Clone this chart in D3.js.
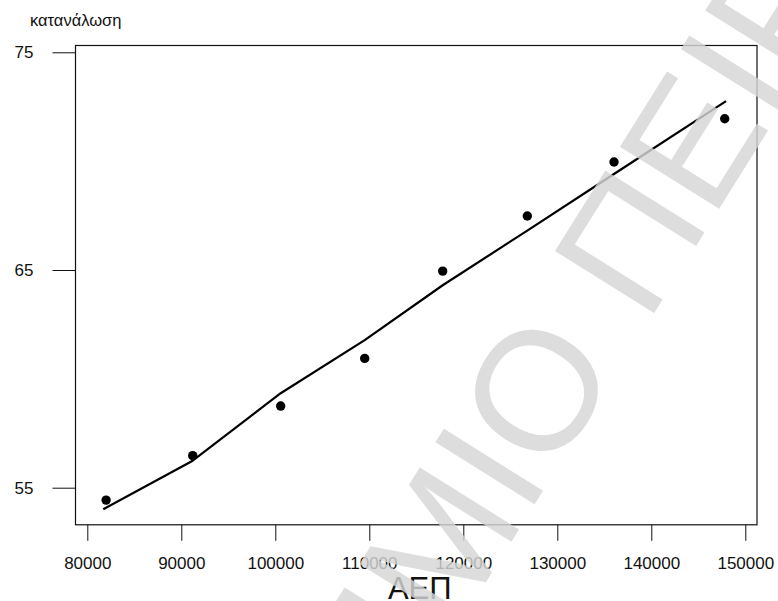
<!DOCTYPE html>
<html>
<head>
<meta charset="utf-8">
<script src="https://cdn.jsdelivr.net/npm/d3@7"></script>
<style>
  html, body { margin: 0; padding: 0; background: #fff; }
  svg { display: block; }
  text { font-family: "Liberation Sans", Arial, sans-serif; }
</style>
</head>
<body>
<svg id="chart" width="778" height="601"></svg>
<script>
// ---- data ----
const gdp = [82000, 91213, 100574, 109511, 117809, 126809, 136032, 147809];
const consumption = [54.43, 56.47, 58.75, 60.94, 64.95, 67.48, 69.96, 71.95];
const fitX = [81700, 91213, 100574, 109511, 117809, 126809, 136032, 147950];
const fitY = [54.01, 56.24, 59.34, 61.78, 64.30, 66.81, 69.41, 72.76];
const xTicks = [80000, 90000, 100000, 110000, 120000, 130000, 140000, 150000];
const yTicks = [55, 65, 75];
const xTitle = "ΑΕΠ";
const yTitle = "κατανάλωση";
const watermarkLeft = "ΠΑΝΕΠΙΣΤΗΜΙΟ";
const watermarkRight = "ΠΕΙΡΑΙΩΣ";

const svg = d3.select("#chart");
const box = {left: 75, top: 45, right: 756.5, bottom: 524.3};

const x = d3.scaleLinear().domain([80000, 150000]).range([87.3, 745.3]);
const y = d3.scaleLinear().domain([55, 75]).range([487.7, 52.3]);

// frame
svg.append("rect")
  .attr("x", box.left + 0.5).attr("y", box.top + 0.5)
  .attr("width", box.right - box.left).attr("height", box.bottom - box.top)
  .attr("fill", "none").attr("stroke", "#111").attr("stroke-width", 1.2);

// y axis
const yAxis = svg.append("g")
  .attr("transform", `translate(${box.left + 0.5},0)`)
  .call(d3.axisLeft(y).tickValues(yTicks).tickSize(23).tickPadding(19).tickSizeOuter(0).tickFormat(d3.format("d")));
yAxis.select(".domain").remove();
yAxis.selectAll("line").attr("stroke", "#111");
yAxis.selectAll("text").attr("font-size", 17).attr("fill", "#111")
  .attr("font-family", "'Liberation Sans', Arial, sans-serif");

// x axis
const xAxis = svg.append("g")
  .attr("transform", `translate(0,${box.bottom + 0.5})`)
  .call(d3.axisBottom(x).tickValues(xTicks).tickSize(16).tickPadding(16).tickSizeOuter(0).tickFormat(d3.format("d")));
xAxis.select(".domain").remove();
xAxis.selectAll("line").attr("stroke", "#111");
xAxis.selectAll("text").attr("font-size", 17).attr("fill", "#111")
  .attr("font-family", "'Liberation Sans', Arial, sans-serif");

// titles
svg.append("text").attr("x", 30).attr("y", 26).attr("font-size", 16.5).attr("fill", "#111").text(yTitle);
svg.append("text").attr("x", (box.left + box.right) / 2 + 4).attr("y", 599)
  .attr("text-anchor", "middle").attr("font-size", 31).attr("fill", "#111").text(xTitle);

// fitted line
const fit = fitX.map((v, i) => [v, fitY[i]]);
svg.append("path").datum(fit)
  .attr("fill", "none").attr("stroke", "#000").attr("stroke-width", 2.2)
  .attr("stroke-linejoin", "round")
  .attr("d", d3.line().x(d => x(d[0])).y(d => y(d[1])));

// watermark
const wm = svg.append("g")
  .attr("transform", "translate(634,345) rotate(-58)")
  .attr("fill", "#d6d6d6").attr("fill-opacity", 0.82)
  .attr("font-size", 170);
wm.append("text").attr("x", -24).attr("y", 0).attr("text-anchor", "end").text(watermarkLeft);
wm.append("text").attr("x", 24).attr("y", 0).attr("text-anchor", "start").text(watermarkRight);

// points (kept crisp black as in the reference)
svg.append("g").selectAll("circle").data(gdp).join("circle")
  .attr("cx", (d) => x(d)).attr("cy", (d, i) => y(consumption[i]))
  .attr("r", 4.7).attr("fill", "#000");
</script>
</body>
</html>
